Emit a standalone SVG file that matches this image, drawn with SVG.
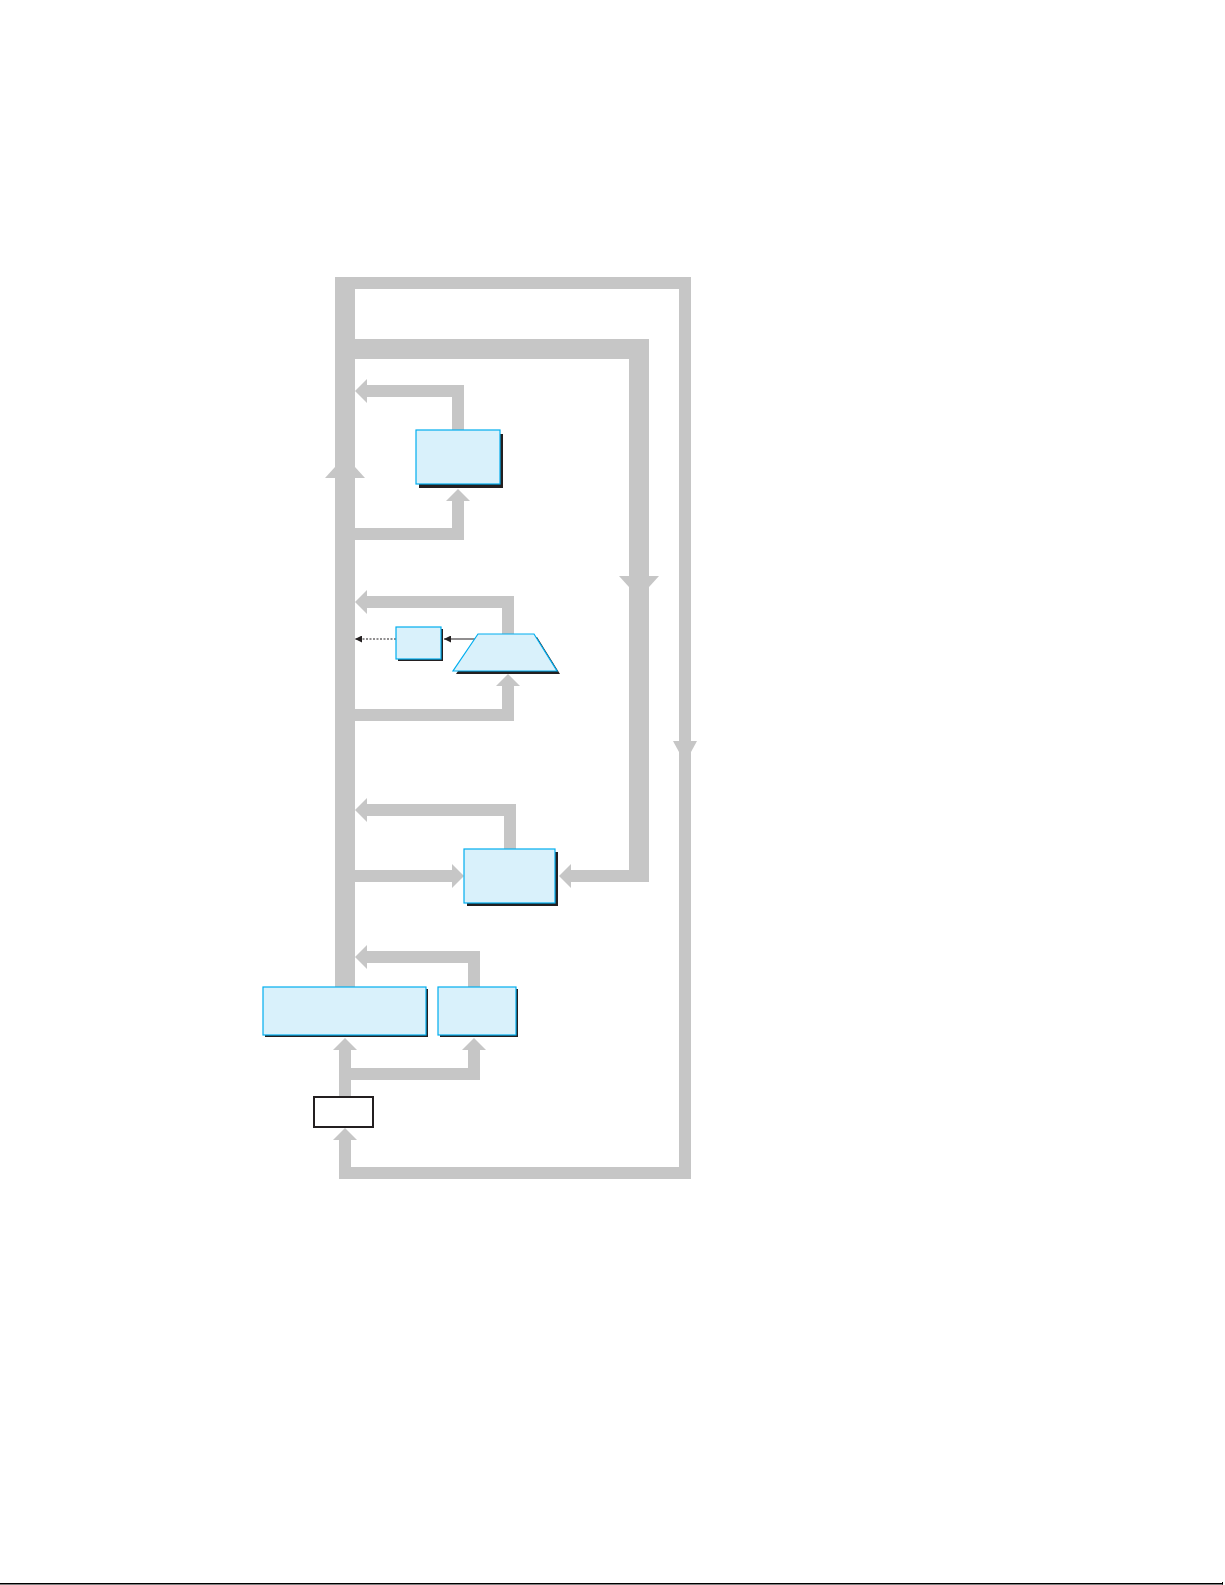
<svg xmlns="http://www.w3.org/2000/svg" width="1225" height="1585" viewBox="0 0 1225 1585">
<style>
.bus{fill:#c6c6c6;stroke:none}
.box{fill:#d9f1fb;stroke:#00aeef;stroke-width:1.2}
.sh{fill:#231f20;stroke:none}
.wbox{fill:#ffffff;stroke:#231f20;stroke-width:2}
.thin{stroke:#231f20;stroke-width:1.2;fill:none}
</style>
<defs>
<marker id="ah" viewBox="0 0 10 10" refX="10" refY="5" markerWidth="7" markerHeight="7" markerUnits="userSpaceOnUse" orient="auto">
<path d="M0,0 L10,5 L0,10 z" fill="#231f20"/>
</marker>
</defs>
<rect width="1225" height="1585" fill="#ffffff"/>
<line x1="0" y1="1583.8" x2="1223" y2="1583.8" stroke="#000000" stroke-width="1.5"/>
<line x1="1222.5" y1="1582" x2="1222.5" y2="1584.5" stroke="#000000" stroke-width="1"/>
<g id="connectors">
<!-- main bus -->
<rect class="bus" x="335" y="277" width="20" height="710"/>
<polygon class="bus" points="325,478 365,478 355,467 335,467"/>
<!-- outer loop -->
<rect class="bus" x="345" y="277" width="346" height="12"/>
<rect class="bus" x="679" y="277" width="12" height="902"/>
<rect class="bus" x="339" y="1167" width="352" height="12"/>
<rect class="bus" x="339" y="1140" width="12" height="39"/>
<polygon class="bus" points="333,1140 357,1140 345,1128"/>
<polygon class="bus" points="673,741 697,741 691,752 679,752"/>
<!-- inner thick loop -->
<rect class="bus" x="355" y="339" width="294" height="20"/>
<rect class="bus" x="629" y="339" width="20" height="543"/>
<rect class="bus" x="571" y="870" width="78" height="12"/>
<polygon class="bus" points="571,864 571,888 559,876"/>
<polygon class="bus" points="619,576 659,576 649,587 629,587"/>
<!-- box1 out -->
<path class="bus" d="M452,430 L452,397 L367,397 L367,385 L464,385 L464,430 Z"/>
<polygon class="bus" points="367,379 367,403 355,391"/>
<!-- box1 in -->
<path class="bus" d="M355,528 L452,528 L452,501 L464,501 L464,540 L355,540 Z"/>
<polygon class="bus" points="446,501 470,501 458,489"/>
<!-- trapezoid out -->
<path class="bus" d="M502,634 L502,608 L367,608 L367,596 L514,596 L514,634 Z"/>
<polygon class="bus" points="367,590 367,614 355,602"/>
<!-- trapezoid in -->
<path class="bus" d="M355,709 L502,709 L502,686 L514,686 L514,721 L355,721 Z"/>
<polygon class="bus" points="496,686 520,686 508,674"/>
<!-- box3 out -->
<path class="bus" d="M504,849 L504,816 L367,816 L367,804 L516,804 L516,849 Z"/>
<polygon class="bus" points="367,798 367,822 355,810"/>
<!-- box3 in from bus -->
<rect class="bus" x="355" y="870" width="97" height="12"/>
<polygon class="bus" points="452,864 452,888 464,876"/>
<!-- box5 out -->
<path class="bus" d="M468,987 L468,963 L367,963 L367,951 L480,951 L480,987 Z"/>
<polygon class="bus" points="367,945 367,969 355,957"/>
<!-- box6 to box4/box5 -->
<rect class="bus" x="339" y="1050" width="12" height="47"/>
<polygon class="bus" points="333,1050 357,1050 345,1038"/>
<path class="bus" d="M351,1068 L468,1068 L468,1050 L480,1050 L480,1080 L351,1080 Z"/>
<polygon class="bus" points="462,1050 486,1050 474,1038"/>
<!-- thin arrows -->
<line class="thin" x1="396" y1="639" x2="355" y2="639" stroke-dasharray="2,1.5" marker-end="url(#ah)"/>
<line class="thin" x1="477" y1="639" x2="444" y2="639" marker-end="url(#ah)"/>
</g>
<g id="box1">
<rect class="sh" x="419" y="434" width="84" height="54"/>
<rect class="box" x="416" y="430" width="84" height="54"/>
</g>
<g id="smallbox">
<rect class="sh" x="398" y="629" width="45" height="32"/>
<rect class="box" x="396" y="627" width="45" height="32"/>
</g>
<g id="trapezoid">
<polygon class="sh" points="481,637 537,637 560,674 456,674"/>
<polygon class="box" points="478,634 534,634 557,671 453,671"/>
</g>
<g id="box3">
<rect class="sh" x="467" y="852" width="91" height="54"/>
<rect class="box" x="464" y="849" width="91" height="54"/>
</g>
<g id="box4">
<rect class="sh" x="265" y="989" width="163" height="48"/>
<rect class="box" x="263" y="987" width="163" height="48"/>
</g>
<g id="box5">
<rect class="sh" x="440" y="989" width="78" height="48"/>
<rect class="box" x="438" y="987" width="78" height="48"/>
</g>
<g id="box6">
<rect class="wbox" x="314" y="1097" width="59" height="30"/>
</g>
</svg>
